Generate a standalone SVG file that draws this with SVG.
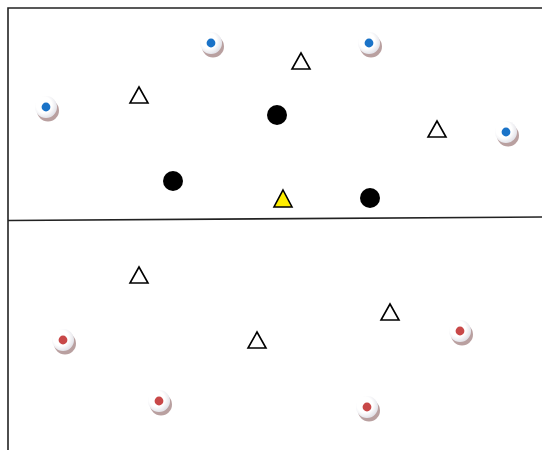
<svg xmlns="http://www.w3.org/2000/svg" width="542" height="450" viewBox="0 0 542 450">
<defs>
<radialGradient id="disc" cx="0.4" cy="0.4" r="0.6">
<stop offset="0.6" stop-color="#ffffff"/>
<stop offset="1" stop-color="#e4e4ea"/>
</radialGradient>
<g id="bdisc"><circle cx="2" cy="3.5" r="11" fill="#a88888" opacity="0.8"/><circle cx="0" cy="0" r="11" fill="url(#disc)"/><circle cx="0" cy="0" r="4.4" fill="#1a73c8"/></g>
<g id="rdisc"><circle cx="2" cy="3.5" r="11" fill="#a88888" opacity="0.8"/><circle cx="0" cy="0" r="11" fill="url(#disc)"/><circle cx="0" cy="0" r="4.4" fill="#c84848"/></g>
<polygon id="tri" points="0,-9 9,7 -9,7" fill="#ffffff" stroke="#000" stroke-width="1.6" stroke-linejoin="miter"/>
</defs>
<style>.frame{fill:none;stroke:#222;stroke-width:1.6}.dot{fill:#000}</style>
<rect width="542" height="450" fill="#fff"/>
<g id="frame"><path class="frame" d="M8,450 V8 H542"/><path class="frame" d="M8,220.5 L542,217"/></g>
<g id="blue1"><use href="#bdisc" x="211" y="43"/></g>
<g id="blue2"><use href="#bdisc" x="369" y="43"/></g>
<g id="blue3"><use href="#bdisc" x="46" y="107"/></g>
<g id="blue4"><use href="#bdisc" x="506" y="132"/></g>
<g id="red1"><use href="#rdisc" x="63" y="340"/></g>
<g id="red2"><use href="#rdisc" x="159" y="401"/></g>
<g id="red3"><use href="#rdisc" x="460" y="331"/></g>
<g id="red4"><use href="#rdisc" x="367" y="407"/></g>
<g id="tri1"><use href="#tri" x="301" y="62"/></g>
<g id="tri2"><use href="#tri" x="139" y="96"/></g>
<g id="tri3"><use href="#tri" x="437" y="130"/></g>
<g id="tri4"><use href="#tri" x="139" y="276"/></g>
<g id="tri5"><use href="#tri" x="390" y="313"/></g>
<g id="tri6"><use href="#tri" x="257" y="341"/></g>
<g id="triY"><polygon points="283,190 292,207 274,207" fill="#ffee00" stroke="#000" stroke-width="1.6"/></g>
<g id="dot1"><circle class="dot" cx="277" cy="115" r="10"/></g>
<g id="dot2"><circle class="dot" cx="173" cy="181" r="10"/></g>
<g id="dot3"><circle class="dot" cx="370" cy="198" r="10"/></g>
<g id="connectors"></g>
</svg>
